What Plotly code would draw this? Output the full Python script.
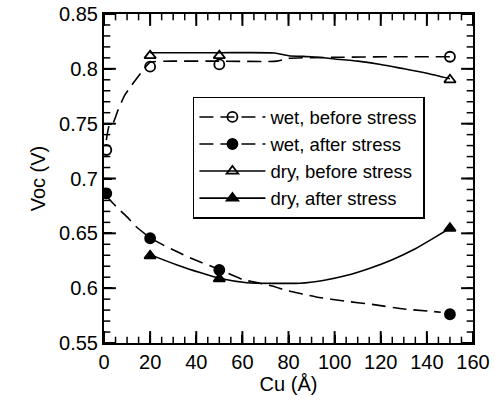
import plotly.graph_objects as go

# Measured points
cu = [1, 20, 50, 150]
wet_before = [0.726, 0.802, 0.804, 0.811]
wet_after = [0.6865, 0.6455, 0.6166, 0.5762]
cu_dry = [20, 50, 150]
dry_before = [0.812, 0.812, 0.790]
dry_after = [0.6295, 0.6085, 0.6546]

# Fitted curves
wb_fit_x = [1, 2.5, 4, 6, 9, 13, 17, 20, 30, 50, 75, 80, 100, 125, 150]
wb_fit_y = [0.735, 0.750, 0.751, 0.762, 0.776, 0.788, 0.799, 0.806, 0.807, 0.807, 0.807, 0.8095, 0.8105, 0.811, 0.811]
db_fit_x = [20, 50, 74, 80, 90, 100, 110, 120, 130, 140, 150]
db_fit_y = [0.8147, 0.8147, 0.8145, 0.812, 0.811, 0.809, 0.807, 0.804, 0.800, 0.796, 0.791]
wa_fit_x = [1, 5, 10, 14, 20, 26, 32, 38, 50, 60, 73, 79, 92, 105, 117, 130, 141, 146]
wa_fit_y = [0.684, 0.675, 0.665, 0.656, 0.646, 0.639, 0.633, 0.627, 0.617, 0.608, 0.602, 0.598, 0.592, 0.588, 0.585, 0.581, 0.579, 0.578]
da_fit_x = [20, 22, 32, 42, 50, 62, 85, 95, 105, 115, 125, 135, 142, 150]
da_fit_y = [0.631, 0.629, 0.621, 0.614, 0.609, 0.605, 0.6045, 0.607, 0.6115, 0.618, 0.626, 0.636, 0.6445, 0.6546]

# Axis ticks
x_range = [0, 160]
y_range = [0.55, 0.85]
x_major = [0, 20, 40, 60, 80, 100, 120, 140, 160]
x_minor = list(range(0, 161, 5))
y_major = [0.55, 0.6, 0.65, 0.7, 0.75, 0.8, 0.85]
y_ticktext = ["0.55", "0.6", "0.65", "0.7", "0.75", "0.8", "0.85"]
y_minor = [round(0.55 + 0.01 * i, 2) for i in range(31)]

names = ["wet, before stress", "wet, after stress", "dry, before stress", "dry, after stress"]

DASH = "14px,7px"
fig = go.Figure()

def add(fx, fy, px, py, dash, symbol):
    fig.add_trace(go.Scatter(x=fx, y=fy, mode="lines",
                             line=dict(color="black", width=1.6, dash=dash, shape="spline", smoothing=0.5),
                             showlegend=False, hoverinfo="skip"))
    fig.add_trace(go.Scatter(x=px, y=py, mode="markers", showlegend=False,
                             marker=dict(symbol=symbol, size=10, color="black",
                                         line=dict(color="black", width=1.8))))

styles = [(DASH, "circle-open"), (DASH, "circle"), ("solid", "triangle-up-open"), ("solid", "triangle-up")]
add(wb_fit_x, wb_fit_y, cu, wet_before, *styles[0])
add(wa_fit_x, wa_fit_y, cu, wet_after, *styles[1])
add(db_fit_x, db_fit_y, cu_dry, dry_before, *styles[2])
add(da_fit_x, da_fit_y, cu_dry, dry_after, *styles[3])

for nm, (dash, sym) in zip(names, styles):
    fig.add_trace(go.Scatter(x=[None], y=[None], mode="lines+markers", name=nm,
                             line=dict(color="black", width=1.6, dash=dash),
                             marker=dict(symbol=sym, size=10, color="black",
                                         line=dict(color="black", width=1.8))))

# Inside tick marks on all four sides (markers centred on the frame, clipped to the plot area)
def tick_trace(xs, ys, symbol, size, width):
    fig.add_trace(go.Scatter(x=xs, y=ys, mode="markers", showlegend=False, hoverinfo="skip",
                             cliponaxis=True,
                             marker=dict(symbol=symbol, size=size, color="black",
                                         line=dict(color="black", width=width))))

for yv in y_range:
    tick_trace(x_major, [yv] * len(x_major), "line-ns", 17, 2)
    tick_trace(x_minor, [yv] * len(x_minor), "line-ns", 9, 1.5)
for xv in x_range:
    tick_trace([xv] * len(y_major), y_major, "line-ew", 17, 2)
    tick_trace([xv] * len(y_minor), y_minor, "line-ew", 9, 1.5)

fig.update_xaxes(range=x_range, tickmode="array", tickvals=x_major,
                 showline=True, linecolor="black", linewidth=2, mirror=True,
                 ticks="inside", ticklen=8, tickwidth=2, tickcolor="black",
                 showgrid=False, zeroline=False, automargin=False,
                 tickfont=dict(size=20, color="black"),
                 title=dict(text="Cu (Å)", font=dict(size=20, color="black"), standoff=0))
fig.update_yaxes(range=y_range, tickmode="array", tickvals=y_major, ticktext=y_ticktext,
                 showline=True, linecolor="black", linewidth=2, mirror=True,
                 ticks="inside", ticklen=8, tickwidth=2, tickcolor="black",
                 showgrid=False, zeroline=False, automargin=False,
                 tickfont=dict(size=20, color="black"),
                 title=dict(text="Voc (V)", font=dict(size=20, color="black"), standoff=8))

fig.update_layout(
    width=495, height=406,
    margin=dict(l=104, r=22, t=14, b=63),
    plot_bgcolor="white", paper_bgcolor="white",
    font=dict(family="Liberation Sans, Arial, sans-serif", color="black"),
    legend=dict(x=0.241, y=0.748, xanchor="left", yanchor="top",
                bgcolor="white", bordercolor="black", borderwidth=1.5,
                font=dict(size=18.5, color="black"), tracegroupgap=0,
                itemwidth=66),
)

fig.write_html("out.html", config={"displayModeBar": False},
               post_script="document.body.style.margin='0';")
